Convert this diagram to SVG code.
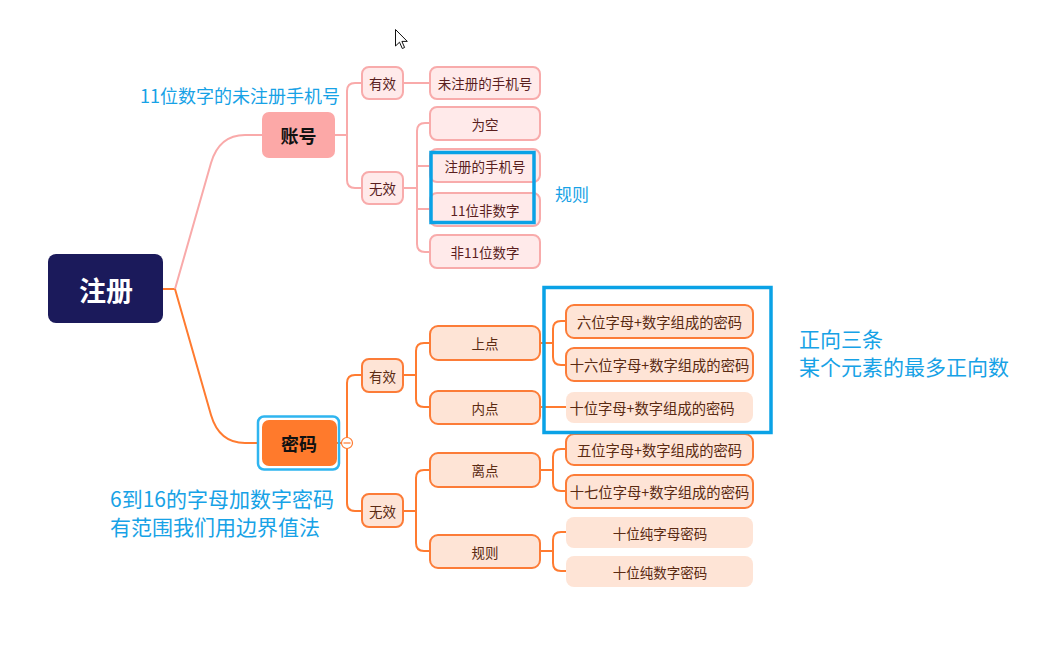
<svg xmlns="http://www.w3.org/2000/svg" width="1052" height="660" viewBox="0 0 1052 660">
<style>
text{font-family:"Microsoft YaHei","Noto Sans CJK SC","Noto Sans",sans-serif;dominant-baseline:central}
.c{text-anchor:middle}
.pl{fill:none;stroke:#f9aaaa;stroke-width:2}
.ol{fill:none;stroke:#ff7b30;stroke-width:2}
.pn{fill:#ffeaea;stroke:#f8abab;stroke-width:2}
.on{fill:#fee4d6;stroke:#fc7c38;stroke-width:2}
.of{fill:#fee4d6}
.pt{font-size:13.5px;fill:#5a1e1e}
.ot{font-size:13.5px;fill:#5a2a12}
.ot2{font-size:14.3px;fill:#5a2a12}
.note{fill:#17a2e6}
.sel{fill:none;stroke:#0aa2e6;stroke-width:3.5}
</style>
<g id="connectors">
<path class="ol" d="M163,289 H175"/>
<path class="pl" d="M175,289 L211,163 C216,146 226,135 245,135 H262"/>
<path class="ol" d="M175,289 L211,415 C216,432 226,443 245,443 H258"/>
<path class="pl" d="M335,135 H347 M362,83 H355 Q347,83 347,91 V180 Q347,188 355,188 H362"/>
<path class="pl" d="M403,83 H430"/>
<path class="pl" d="M403,188 H417 M430,123 H425 Q417,123 417,131 V244 Q417,252 425,252 H430 M417,166 H430 M417,209 H430"/>
<path class="ol" d="M337,443 H347 M362,375 H355 Q347,375 347,383 V503 Q347,511 355,511 H362"/>
<path class="ol" d="M403,375 H416 M430,343 H424 Q416,343 416,351 V399 Q416,407 424,407 H430"/>
<path class="ol" d="M403,511 H416 M430,470 H424 Q416,470 416,478 V543 Q416,551 424,551 H430"/>
<path class="ol" d="M540,343 H553 M566,321 H561 Q553,321 553,329 V357 Q553,365 561,365 H566"/>
<path class="ol" d="M540,407 H566"/>
<path class="ol" d="M540,470 H553 M566,449 H561 Q553,449 553,457 V483 Q553,491 561,491 H566"/>
<path class="ol" d="M540,551 H553 M566,532 H561 Q553,532 553,540 V563 Q553,571 561,571 H566"/>
</g>
<g id="root"><rect x="48" y="254" width="115" height="69" rx="8" fill="#1b1a5b"/><text class="c" x="106" y="289" font-size="27" font-weight="bold" fill="#fff">注册</text></g>
<g id="zhanghao"><rect x="262" y="112" width="73" height="46" rx="7" fill="#fca8a7"/><text class="c" x="298.5" y="135" font-size="18" font-weight="bold" fill="#111">账号</text></g>
<g id="mima"><rect x="258" y="416.5" width="81" height="53" rx="6" fill="none" stroke="#2fb5f0" stroke-width="2.5"/><rect x="262" y="420" width="75" height="46" rx="7" fill="#ff7a2c"/><text class="c" x="299" y="443" font-size="18" font-weight="bold" fill="#111">密码</text><circle cx="347" cy="443" r="5.5" fill="#fff" stroke="#ff7b30" stroke-width="1.2"/><path d="M343.5,443 H350.5" stroke="#ff7b30" stroke-width="1.2"/></g>
<g id="zh-youxiao"><rect class="pn" x="362" y="67" width="41" height="32" rx="7"/><text class="c pt" x="382.5" y="83">有效</text></g>
<g id="zh-wuxiao"><rect class="pn" x="362" y="172" width="41" height="32" rx="7"/><text class="c pt" x="382.5" y="188">无效</text></g>
<g id="zh1"><rect class="pn" x="430" y="67" width="110" height="32" rx="7"/><text class="c pt" x="485" y="83">未注册的手机号</text></g>
<g id="zh2"><rect class="pn" x="430" y="107" width="110" height="33" rx="7"/><text class="c pt" x="485" y="123.5">为空</text></g>
<g id="zh3"><rect class="pn" x="430" y="149" width="110" height="33" rx="7"/><text class="c pt" x="485" y="165.5">注册的手机号</text></g>
<g id="zh4"><rect class="pn" x="430" y="193" width="110" height="33" rx="7"/><text class="c pt" x="485" y="209.5">11位非数字</text></g>
<g id="zh5"><rect class="pn" x="430" y="235" width="110" height="33" rx="7"/><text class="c pt" x="485" y="251.5">非11位数字</text></g>
<g id="mm-youxiao"><rect class="on" x="362" y="359" width="41" height="33" rx="7"/><text class="c ot" x="382.5" y="375.5">有效</text></g>
<g id="mm-wuxiao"><rect class="on" x="362" y="494" width="41" height="33" rx="7"/><text class="c ot" x="382.5" y="510.5">无效</text></g>
<g id="shangdian"><rect class="on" x="430" y="326" width="110" height="34" rx="8"/><text class="c ot" x="485" y="343">上点</text></g>
<g id="neidian"><rect class="on" x="430" y="391" width="110" height="33" rx="8"/><text class="c ot" x="485" y="407.5">内点</text></g>
<g id="lidian"><rect class="on" x="430" y="453" width="110" height="34" rx="8"/><text class="c ot" x="485" y="470">离点</text></g>
<g id="guize"><rect class="on" x="430" y="535" width="110" height="33" rx="8"/><text class="c ot" x="485" y="551.5">规则</text></g>
<g id="p1"><rect class="on" x="566" y="305" width="187" height="33" rx="8"/><text class="c ot2" x="659.5" y="321.5">六位字母+数字组成的密码</text></g>
<g id="p2"><rect class="on" x="566" y="348" width="187" height="33" rx="8"/><text class="c ot2" x="659.5" y="364.5">十六位字母+数字组成的密码</text></g>
<g id="p3"><rect class="of" x="566" y="392" width="187" height="31" rx="8"/><text class="c ot2" x="652" y="407.5">十位字母+数字组成的密码</text></g>
<g id="p4"><rect class="on" x="566" y="434" width="187" height="31" rx="8"/><text class="c ot2" x="659.5" y="449.5">五位字母+数字组成的密码</text></g>
<g id="p5"><rect class="on" x="566" y="475" width="187" height="33" rx="8"/><text class="c ot2" x="659.5" y="491.5">十七位字母+数字组成的密码</text></g>
<g id="p6"><rect class="of" x="566" y="517" width="187" height="31" rx="8"/><text class="c ot" x="660" y="532.5">十位纯字母密码</text></g>
<g id="p7"><rect class="of" x="566" y="556" width="187" height="31" rx="8"/><text class="c ot" x="660" y="571.5">十位纯数字密码</text></g>
<g id="annotations">
<rect class="sel" x="431" y="152.5" width="103" height="70"/>
<rect class="sel" x="544" y="287.5" width="227" height="145"/>
<text class="note" x="140" y="94.5" font-size="18">11位数字的未注册手机号</text>
<text class="note" x="555" y="193" font-size="17">规则</text>
<text class="note" x="799" y="337.5" font-size="21">正向三条</text>
<text class="note" x="799" y="365.5" font-size="21">某个元素的最多正向数</text>
<text class="note" x="110" y="498" font-size="21">6到16的字母加数字密码</text>
<text class="note" x="110" y="525.5" font-size="21">有范围我们用边界值法</text>
</g>
<path id="cursor" d="M395.5,29.5 L395.5,46 L399.5,42.2 L402.3,48.5 L404.6,47.5 L401.9,41.4 L407.3,41.4 Z" fill="#fff" stroke="#111" stroke-width="1"/>
</svg>
